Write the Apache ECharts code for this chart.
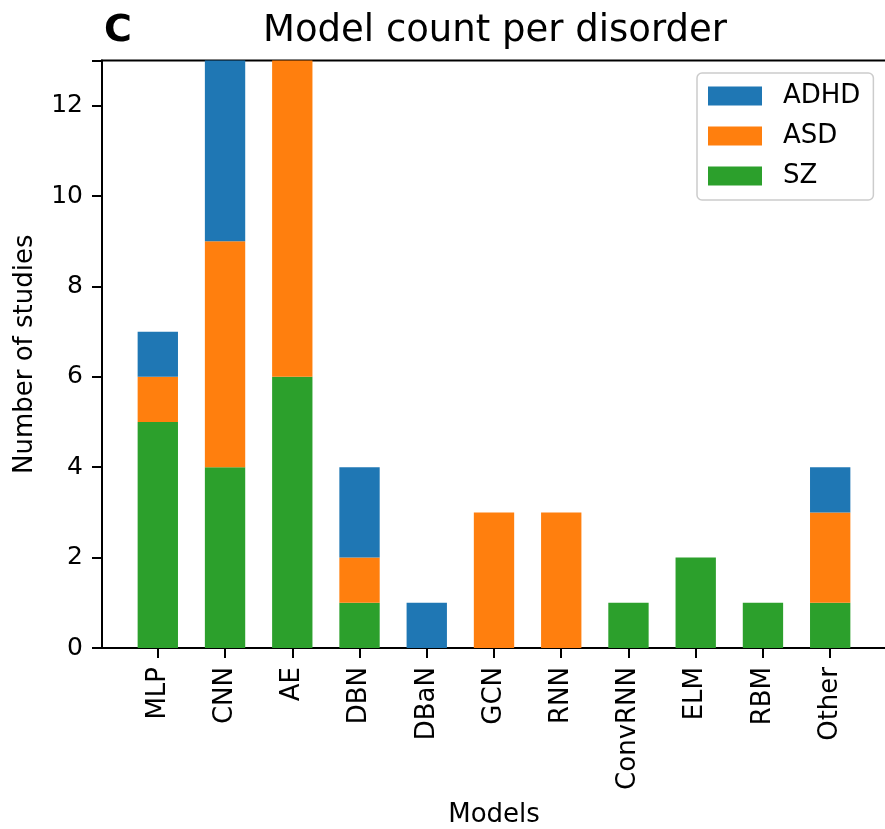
<!DOCTYPE html>
<html>
<head>
<meta charset="utf-8">
<script src="https://cdn.jsdelivr.net/npm/echarts@6/dist/echarts.min.js"></script>
<style>
html,body{margin:0;padding:0;background:#fff;}
#chart{width:885px;height:829px;}
</style>
</head>
<body>
<div id="chart"></div>
<script>
const categories = ['MLP','CNN','AE','DBN','DBaN','GCN','RNN','ConvRNN','ELM','RBM','Other'];
const szValues   = [5, 4, 6, 1, 0, 0, 0, 1, 2, 1, 1];
const asdValues  = [1, 5, 7, 1, 0, 3, 3, 0, 0, 0, 2];
const adhdValues = [1, 4, 0, 2, 1, 0, 0, 0, 0, 0, 1];
const yTicks = [0, 2, 4, 6, 8, 10, 12];

const FONT = 'DejaVu Sans';
const tickIdx = categories.map((c, i) => i);

// frame: x range -0.83 .. 10.83 (matplotlib-like margins)
const X_MIN = -0.83, X_MAX = 10.83;
const GRID_LEFT = 102, GRID_W = 784, GRID_TOP = 60.5, GRID_BOTTOM = 181;
const unit = GRID_W / (X_MAX - X_MIN);
const barGridLeft = GRID_LEFT + (-0.5 - X_MIN) * unit;
const barGridW = categories.length * unit;

const chart = echarts.init(document.getElementById('chart'), null, {renderer: 'canvas'});
const option = {
  animation: false,
  backgroundColor: '#fff',
  title: [
    {text: 'Model count per disorder', left: 495, top: 13, textAlign: 'center', padding: 0,
     textStyle: {fontFamily: FONT, fontSize: 37, fontWeight: 'normal', color: '#000'}},
    {text: 'C', left: 104, top: 12, padding: 0,
     textStyle: {fontFamily: FONT, fontSize: 38, fontWeight: 'bold', color: '#000'}}
  ],
  legend: {
    data: ['ADHD', 'ASD', 'SZ'],
    orient: 'vertical',
    left: 697, top: 73,
    padding: [10, 13, 11, 11],
    itemWidth: 54, itemHeight: 19, itemGap: 14,
    icon: 'rect',
    borderColor: '#cccccc', borderWidth: 1.5, borderRadius: 5,
    backgroundColor: 'rgba(255,255,255,0.8)',
    textStyle: {fontFamily: FONT, fontSize: 26, color: '#000', lineHeight: 19, padding: [0, 0, 0, 16]}
  },
  grid: [
    {left: GRID_LEFT, top: GRID_TOP, width: GRID_W, bottom: GRID_BOTTOM, show: true, borderColor: '#000', borderWidth: 2,
     outerBoundsMode: 'none', containLabel: false},
    {left: barGridLeft, top: GRID_TOP, width: barGridW, bottom: GRID_BOTTOM, outerBoundsMode: 'none', containLabel: false}
  ],
  xAxis: [
    {
      gridIndex: 0, type: 'value', min: X_MIN, max: X_MAX,
      name: 'Models', nameLocation: 'middle', nameGap: 154,
      nameTextStyle: {fontFamily: FONT, fontSize: 26, color: '#000'},
      axisLine: {show: true, onZero: false, lineStyle: {color: '#000', width: 2}},
      axisTick: {show: true, customValues: tickIdx, length: 10, lineStyle: {color: '#000', width: 2}},
      axisLabel: {customValues: tickIdx, rotate: 90, margin: 19, fontFamily: FONT, fontSize: 26, color: '#000',
        formatter: v => categories[Math.round(v)] || ''},
      splitLine: {show: false}
    },
    {
      gridIndex: 1, type: 'category', data: categories, show: false
    }
  ],
  yAxis: [
    {
      gridIndex: 0, type: 'value', min: 0, max: 13, interval: 2,
      name: 'Number of studies', nameLocation: 'middle', nameGap: 64,
      nameTextStyle: {fontFamily: FONT, fontSize: 26, color: '#000'},
      axisLine: {show: true, onZero: false, lineStyle: {color: '#000', width: 2}},
      axisTick: {show: true, length: 10, lineStyle: {color: '#000', width: 2}},
      axisLabel: {margin: 19, fontFamily: FONT, fontSize: 25, color: '#000',
        formatter: v => (yTicks.indexOf(v) >= 0 ? String(v) : '')},
      splitLine: {show: false}
    },
    {
      gridIndex: 1, type: 'value', min: 0, max: 13, show: false, splitLine: {show: false}
    }
  ],
  series: [
    {name: 'SZ', type: 'bar', stack: 'total', xAxisIndex: 1, yAxisIndex: 1, data: szValues, barWidth: '60%', itemStyle: {color: '#2ca02c'}},
    {name: 'ASD', type: 'bar', stack: 'total', xAxisIndex: 1, yAxisIndex: 1, data: asdValues, barWidth: '60%', itemStyle: {color: '#ff7f0e'}},
    {name: 'ADHD', type: 'bar', stack: 'total', xAxisIndex: 1, yAxisIndex: 1, data: adhdValues, barWidth: '60%', itemStyle: {color: '#1f77b4'}}
  ]
};
chart.setOption(option);
</script>
</body>
</html>
